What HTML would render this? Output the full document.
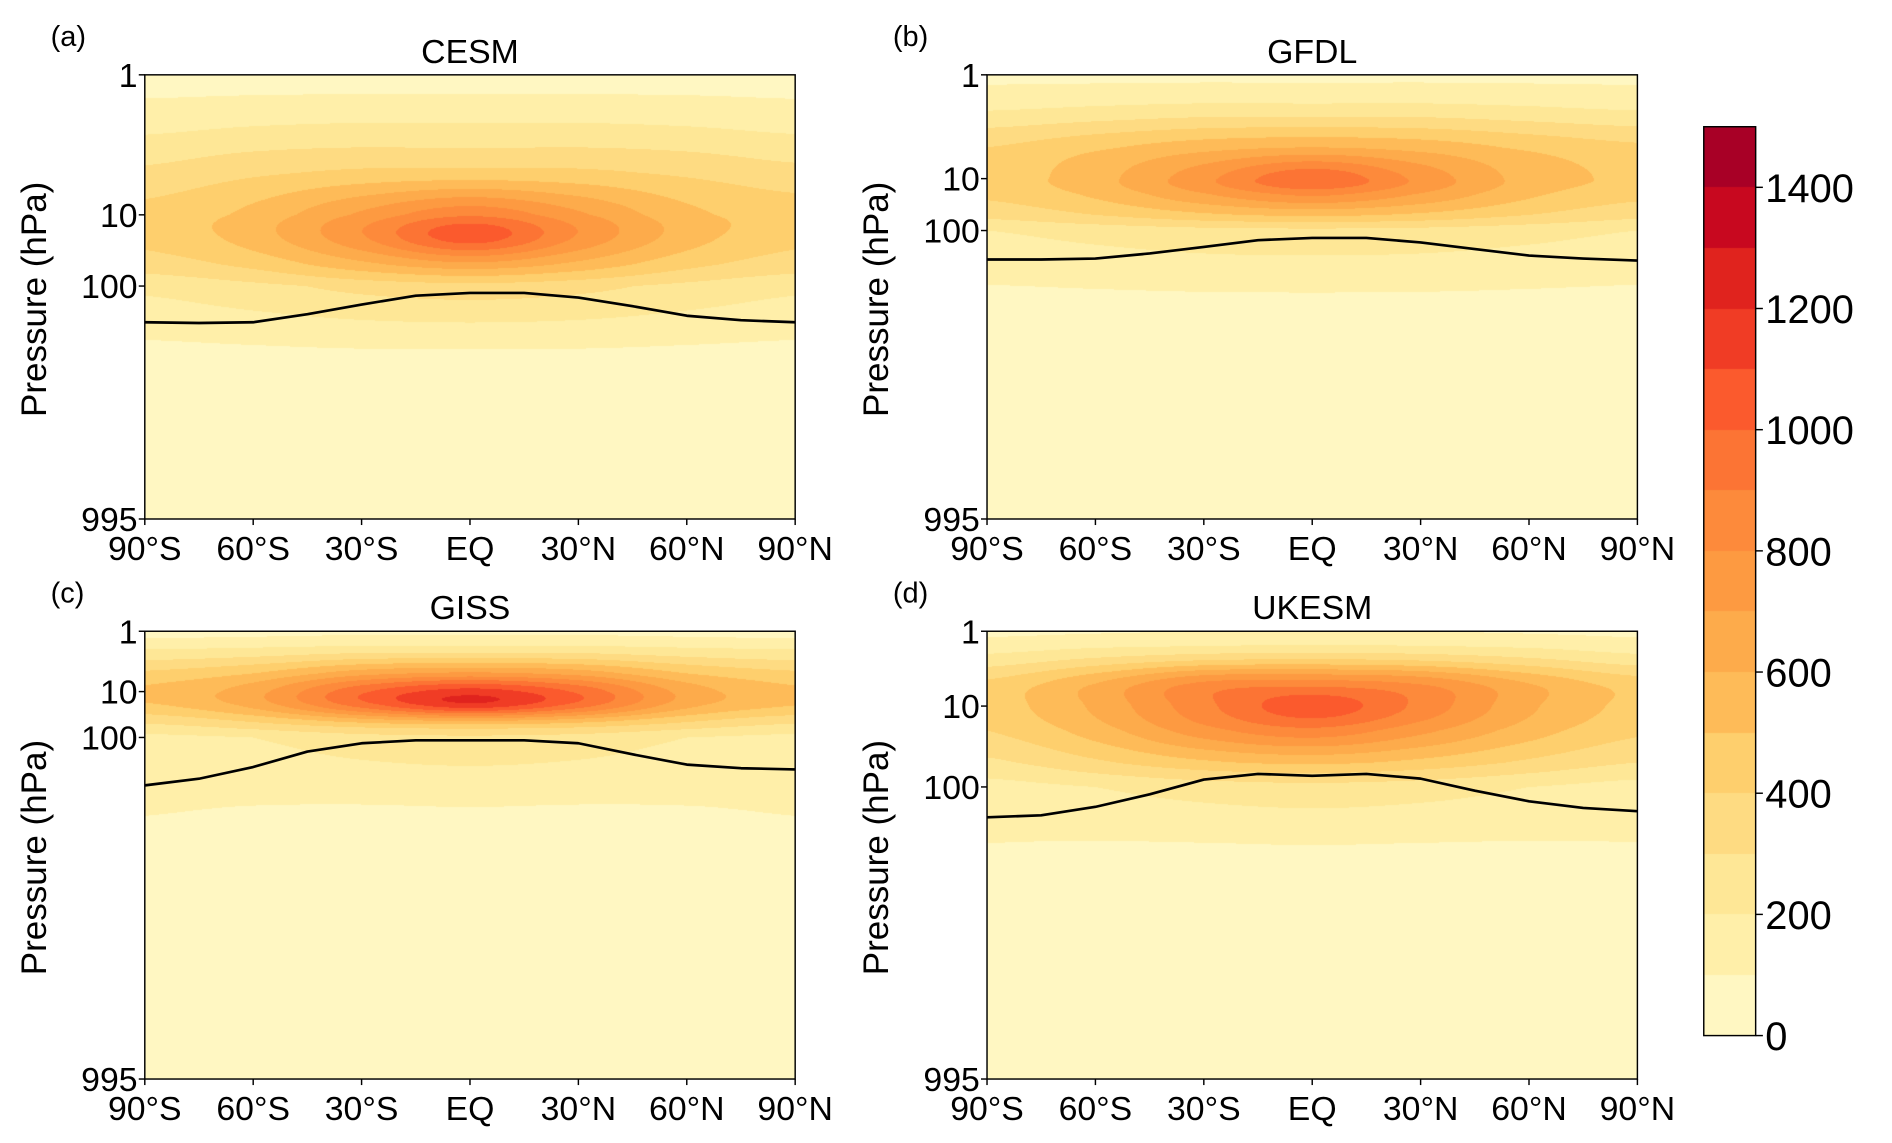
<!DOCTYPE html>
<html><head><meta charset="utf-8">
<style>
html,body{margin:0;padding:0;background:#fff;}
#wrap{position:relative;width:1892px;height:1143px;overflow:hidden;}
canvas,svg{position:absolute;left:0;top:0;}
text{font-family:"Liberation Sans",sans-serif;fill:#000;}
</style></head>
<body>
<div id="wrap">
<canvas id="cv" width="1892" height="1143"></canvas>
<svg id="sv" width="1892" height="1143" viewBox="0 0 1568 947" preserveAspectRatio="none"></svg>
</div>
<script>
const lats=[-90,-60,-30,0,30,60,90];
const pres=[1,2,5,10,20,50,100,200,995];
const levels=[0,100,200,300,400,500,600,700,800,900,1000,1100,1200,1300,1400,1500];
const colorTicks=[0,200,400,600,800,1000,1200,1400];
const yTicks=[1,10,100,995];
const xTickLats=[-90,-60,-30,0,30,60,90];
const xTickLabels=["90°S","60°S","30°S","EQ","30°N","60°N","90°N"];
const tropLats=[-90,-75,-60,-45,-30,-15,0,15,30,45,60,75,90];
const fieldA=[[60,60,60,60,60,60,60],[150,170,180,180,180,170,150],[320,380,420,430,420,380,330],[430,530,720,880,720,530,450],[430,550,790,1060,790,550,430],[350,430,570,670,570,430,350],[220,270,330,360,330,270,220],[70,75,80,80,80,75,70],[0,0,0,0,0,0,0]];
const fieldB=[[80,80,80,80,80,80,80],[180,200,220,220,220,200,180],[400,480,560,600,560,480,420],[450,560,770,980,770,560,480],[420,520,690,820,690,520,430],[330,400,480,520,480,400,330],[200,230,260,270,260,230,200],[50,50,50,50,50,50,50],[0,0,0,0,0,0,0]];
const fieldC=[[60,70,80,80,80,70,60],[200,220,250,250,250,220,200],[420,500,660,720,660,500,420],[520,660,980,1150,980,660,520],[480,630,940,1160,950,630,500],[300,380,480,520,480,380,300],[170,200,250,270,250,200,170],[80,60,40,40,40,60,80],[0,0,0,0,0,0,0]];
const fieldD=[[80,90,100,100,100,90,80],[200,260,300,320,300,260,200],[420,600,820,850,790,600,450],[450,620,870,1060,870,620,470],[400,550,760,870,730,550,420],[280,380,480,520,470,380,300],[160,200,240,260,240,200,160],[70,50,40,40,40,50,70],[0,0,0,0,0,0,0]];
const tropA=[143,144,143,132,120,110,107,107,112,122,134,140,143];
const tropB=[126,126,125,120,114,108,106,106,110,116,122,125,127];
const tropC=[138,132,122,110,104,102,102,102,104,112,120,123,124];
const tropD=[127,125,117,106,81,69,73,69,79,103,112,118,121];
const colors=["#fff7c2","#ffefa9","#fee796","#fedb82","#fecf6d","#febb58","#fdab4b","#fd9a41","#fd8a3b","#fc7434","#fb5a2d","#f03c25","#e0231e","#c8081f","#a80026"];

const panels=[
 {id:"a",title:"CESM",x0:120,x1:659,y0:62,y1:430,ys:[62,178,237,430],f:fieldA,t:tropA},
 {id:"b",title:"GFDL",x0:818,x1:1357,y0:62,y1:430,ys:[62,148,191,430],f:fieldB,t:tropB},
 {id:"c",title:"GISS",x0:120,x1:659,y0:523,y1:894,ys:[523,573,611,894],f:fieldC,t:tropC},
 {id:"d",title:"UKESM",x0:818,x1:1357,y0:523,y1:894,ys:[523,585,652,894],f:fieldD,t:tropD}
];
const SX=1892/1568, SY=1143/947;
function yOf(P,p){const L=yTicks.map(Math.log10),lp=Math.log10(p);
 for(let i=0;i<3;i++){ if(lp<=L[i+1]||i==2){const f=(lp-L[i])/(L[i+1]-L[i]);return P.ys[i]+f*(P.ys[i+1]-P.ys[i]);}}}
function pOf(P,y){const L=yTicks.map(Math.log10);
 for(let i=0;i<3;i++){ if(y<=P.ys[i+1]||i==2){const f=(y-P.ys[i])/(P.ys[i+1]-P.ys[i]);return Math.pow(10,L[i]+f*(L[i+1]-L[i]));}}}
function xOf(P,lat){return P.x0+(lat+90)/180*(P.x1-P.x0);}
function hex(c){return [parseInt(c.substr(1,2),16),parseInt(c.substr(3,2),16),parseInt(c.substr(5,2),16)];}
const rgb=colors.map(hex);
function cr(row,li,t){const n=row.length;const g=i=>row[Math.max(0,Math.min(n-1,i))];
 const p0=g(li-1),p1=g(li),p2=g(li+1),p3=g(li+2);
 return 0.5*((2*p1)+(-p0+p2)*t+(2*p0-5*p1+4*p2-p3)*t*t+(-p0+3*p1-3*p2+p3)*t*t*t);}
function valAt(P,lat,p){
 let li=Math.min(5,Math.max(0,Math.floor((lat+90)/30)));let lf=(lat-lats[li])/30;
 const lp=Math.log10(p);let pi=0;while(pi<pres.length-2&&lp>Math.log10(pres[pi+1]))pi++;
 let pf=(lp-Math.log10(pres[pi]))/(Math.log10(pres[pi+1])-Math.log10(pres[pi]));
 pf=Math.max(0,Math.min(1,pf));
 const F=P.f;
 const col=F.map(r=>cr(r,li,lf));
 return cr(col,pi,pf);}
const cv=document.getElementById('cv'),ctx=cv.getContext('2d');
const img=ctx.createImageData(1892,1143);const d=img.data;
for(let i=0;i<d.length;i+=4){d[i]=255;d[i+1]=255;d[i+2]=255;d[i+3]=255;}
panels.forEach(P=>{
 const X0=Math.round(P.x0*SX),X1=Math.round(P.x1*SX),Y0=Math.round(P.y0*SY),Y1=Math.round(P.y1*SY);
 for(let Y=Y0;Y<Y1;Y++){const p=pOf(P,(Y+0.5)/SY);
  for(let X=X0;X<X1;X++){const lat=((X+0.5)/SX-P.x0)/(P.x1-P.x0)*180-90;
   const v=valAt(P,lat,p);let k=Math.floor(v/100);k=Math.max(0,Math.min(14,k));
   const c=rgb[k],o=(Y*1892+X)*4;d[o]=c[0];d[o+1]=c[1];d[o+2]=c[2];}}
});
const cb={x0:1412,x1:1455,y0:105,y1:858};
for(let Y=Math.round(cb.y0*SY);Y<Math.round(cb.y1*SY);Y++){const v=(cb.y1-(Y+0.5)/SY)/(cb.y1-cb.y0)*1500;
 let k=Math.max(0,Math.min(14,Math.floor(v/100)));const c=rgb[k];
 for(let X=Math.round(cb.x0*SX);X<Math.round(cb.x1*SX);X++){const o=(Y*1892+X)*4;d[o]=c[0];d[o+1]=c[1];d[o+2]=c[2];}}
ctx.putImageData(img,0,0);

const NS="http://www.w3.org/2000/svg",sv=document.getElementById('sv');
function el(tag,attrs,txt){const e=document.createElementNS(NS,tag);for(const k in attrs)e.setAttribute(k,attrs[k]);if(txt!==undefined)e.textContent=txt;sv.appendChild(e);return e;}
panels.forEach(P=>{
 let pts=tropLats.map((lat,i)=>xOf(P,lat).toFixed(1)+","+yOf(P,P.t[i]).toFixed(1)).join(" ");
 const tl=el('polyline',{points:pts,fill:'none',stroke:'#000','stroke-width':2.2,'stroke-linejoin':'round'});
 
 
 const fr=el('rect',{x:P.x0,y:P.y0,width:P.x1-P.x0,height:P.y1-P.y0,fill:'none',stroke:'#000','stroke-width':1.2});
 
 
 yTicks.forEach(p=>{const y=yOf(P,p);
  el('line',{x1:P.x0-5,x2:P.x0,y1:y,y2:y,stroke:'#000','stroke-width':1.2});
  const t=el('text',{x:P.x0-6,y:y+10,'text-anchor':'end','font-size':28},String(p));
  
  });
 xTickLats.forEach((lat,i)=>{const x=xOf(P,lat);
  el('line',{x1:x,x2:x,y1:P.y1,y2:P.y1+5,stroke:'#000','stroke-width':1.2});
  const t=el('text',{x:x,y:P.y1+34,'text-anchor':'middle','font-size':28},xTickLabels[i]);
  
  });
 const tt=el('text',{x:(P.x0+P.x1)/2,y:P.y0-10,'text-anchor':'middle','font-size':28},P.title);
 
 
 const pl=el('text',{x:P.x0-78,y:P.y0-24,'font-size':24},'('+P.id+')');
 
 
 const cy=(P.y0+P.y1)/2+2,cx=P.x0-82;
 const yl=el('text',{x:cx,y:cy,'text-anchor':'middle','font-size':29,transform:`rotate(-90 ${cx} ${cy})`},'Pressure (hPa)');
 
 
});
const cbf=el('rect',{x:cb.x0,y:cb.y0,width:cb.x1-cb.x0,height:cb.y1-cb.y0,fill:'none',stroke:'#000','stroke-width':1.2});


colorTicks.forEach(v=>{const y=cb.y1-v/1500*(cb.y1-cb.y0);
 el('line',{x1:cb.x1,x2:cb.x1+6,y1:y,y2:y,stroke:'#000','stroke-width':1.2});
 const t=el('text',{x:cb.x1+8,y:y+12,'font-size':33},String(v));
 
 });
</script>
</body></html>
